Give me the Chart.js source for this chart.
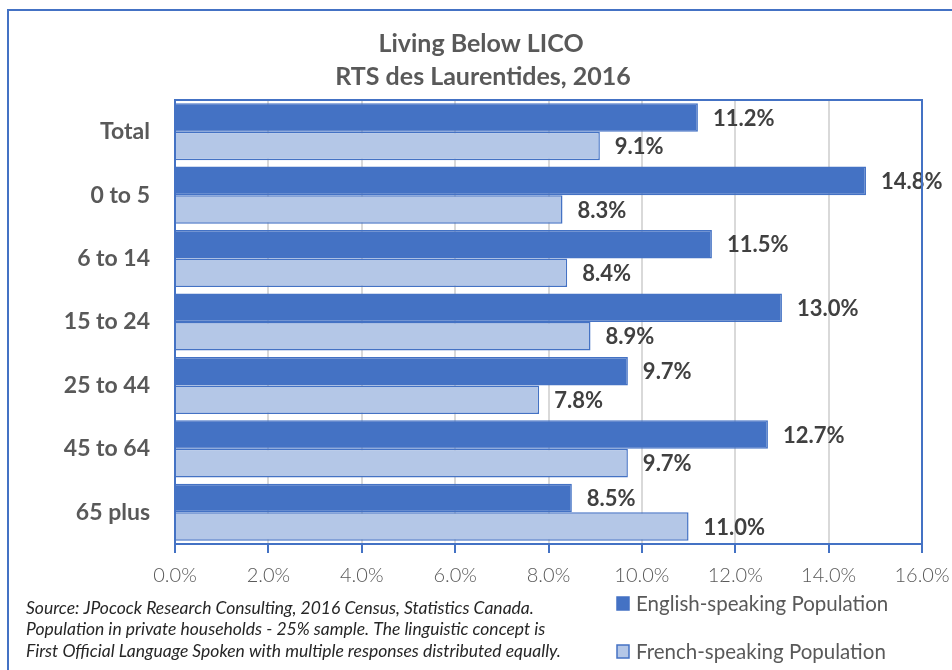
<!DOCTYPE html>
<html>
<head>
<meta charset="utf-8">
<script src="https://cdn.jsdelivr.net/npm/chart.js@4.4.0/dist/chart.umd.min.js"></script>
<style>
  html, body { margin: 0; padding: 0; background: #fff; }
  #wrap { position: relative; width: 952px; height: 670px; overflow: hidden; }
  #frame { position: absolute; left: 7px; top: 9px; width: 1000px; height: 700px; border: 2px solid #4472C4; box-sizing: border-box; }
  canvas { position: absolute; left: 0; top: 0; }
</style>
</head>
<body>
<div id="wrap">
  <div id="frame"></div>
  <canvas id="licoChart" width="952" height="670"></canvas>
</div>
<script>
const ageGroups = ['Total', '0 to 5', '6 to 14', '15 to 24', '25 to 44', '45 to 64', '65 plus'];
const englishValues = [11.2, 14.8, 11.5, 13.0, 9.7, 12.7, 8.5];
const frenchValues = [9.1, 8.3, 8.4, 8.9, 7.8, 9.7, 11.0];
const titleLines = ['Living Below LICO', 'RTS des Laurentides, 2016'];
const sourceLines = [
    'Source: JPocock Research Consulting, 2016 Census, Statistics Canada.',
    'Population in private households - 25% sample. The linguistic concept is',
    'First Official Language Spoken with multiple responses distributed equally.'
];

const blue = '#4472C4';
const lightBlue = '#B4C7E7';
const grey = '#595959';

// labels at the end of each bar
const barLabels = {
    id: 'barLabels',
    afterDatasetsDraw(chart) {
        const ctx = chart.ctx;
        ctx.save();
        ctx.font = 'bold 22px Lato';
        ctx.fillStyle = '#404040';
        ctx.textBaseline = 'middle';
        ctx.textAlign = 'left';
        chart.data.datasets.forEach((ds, i) => {
            chart.getDatasetMeta(i).data.forEach((bar, j) => {
                ctx.fillText(ds.data[j].toFixed(1) + '%', bar.x + 15, bar.y + 1);
            });
        });
        ctx.restore();
    }
};

// title, plot border, legend and source note
const extras = {
    id: 'extras',
    afterDraw(chart) {
        const ctx = chart.ctx;
        const a = chart.chartArea;
        ctx.save();
        ctx.strokeStyle = blue;
        ctx.lineWidth = 2;
        ctx.strokeRect(a.left, a.top, a.right - a.left, a.bottom - a.top);

        ctx.fillStyle = grey;
        ctx.textAlign = 'center';
        ctx.textBaseline = 'middle';
        ctx.font = 'bold 25px Lato';
        ctx.fillText(titleLines[0], 481, 44);
        ctx.fillText(titleLines[1], 483, 77);

        // legend
        ctx.textAlign = 'left';
        ctx.font = '20.5px Lato';
        const items = [
            { text: chart.data.datasets[0].label, fill: blue, y: 604 },
            { text: chart.data.datasets[1].label, fill: lightBlue, y: 652 }
        ];
        items.forEach(it => {
            ctx.fillStyle = it.fill;
            ctx.fillRect(617, it.y - 7, 12, 13);
            ctx.strokeStyle = blue;
            ctx.lineWidth = 1.5;
            ctx.strokeRect(617, it.y - 7, 12, 13);
            ctx.fillStyle = grey;
            ctx.fillText(it.text, 636, it.y);
        });

        // source
        ctx.fillStyle = '#262626';
        ctx.font = 'italic 17.5px Lato';
        sourceLines.forEach((line, i) => {
            ctx.fillText(line, 26, 608 + i * 21.5);
        });
        ctx.restore();
    }
};

const ctx = document.getElementById('licoChart').getContext('2d');
const licoChart = new Chart(ctx, {
    type: 'bar',
    data: {
        labels: ageGroups,
        datasets: [
            {
                label: 'English-speaking Population',
                data: englishValues,
                backgroundColor: blue,
                borderColor: blue,
                borderWidth: 1.5,
                categoryPercentage: 0.9,
                barPercentage: 1
            },
            {
                label: 'French-speaking Population',
                data: frenchValues,
                backgroundColor: lightBlue,
                borderColor: blue,
                borderWidth: 1.5,
                categoryPercentage: 0.9,
                barPercentage: 1
            }
        ]
    },
    options: {
        indexAxis: 'y',
        responsive: false,
        animation: false,
        layout: { padding: { left: 0, right: 30, top: 100, bottom: 76 } },
        plugins: {
            legend: { display: false },
            title: { display: false },
            tooltip: { enabled: false }
        },
        scales: {
            x: {
                min: 0,
                max: 16,
                afterFit: s => { s.height = 50; s.paddingRight = 0; s.paddingLeft = 0; },
                grid: {
                    color: '#D9D9D9',
                    lineWidth: 2,
                    tickColor: blue,
                    tickLength: 9,
                    tickWidth: 2
                },
                border: { color: blue, width: 2 },
                ticks: {
                    stepSize: 2,
                    padding: 11,
                    color: grey,
                    font: { family: 'Lato', size: 20, weight: '300' },
                    callback: v => v.toFixed(1) + '%'
                }
            },
            y: {
                afterFit: s => { s.width = 175; },
                grid: { display: false, drawTicks: false },
                border: { color: blue, width: 2 },
                ticks: {
                    padding: 25,
                    color: grey,
                    font: { family: 'Lato', size: 23, weight: 'bold' }
                }
            }
        }
    },
    plugins: [barLabels, extras]
});
</script>
</body>
</html>
